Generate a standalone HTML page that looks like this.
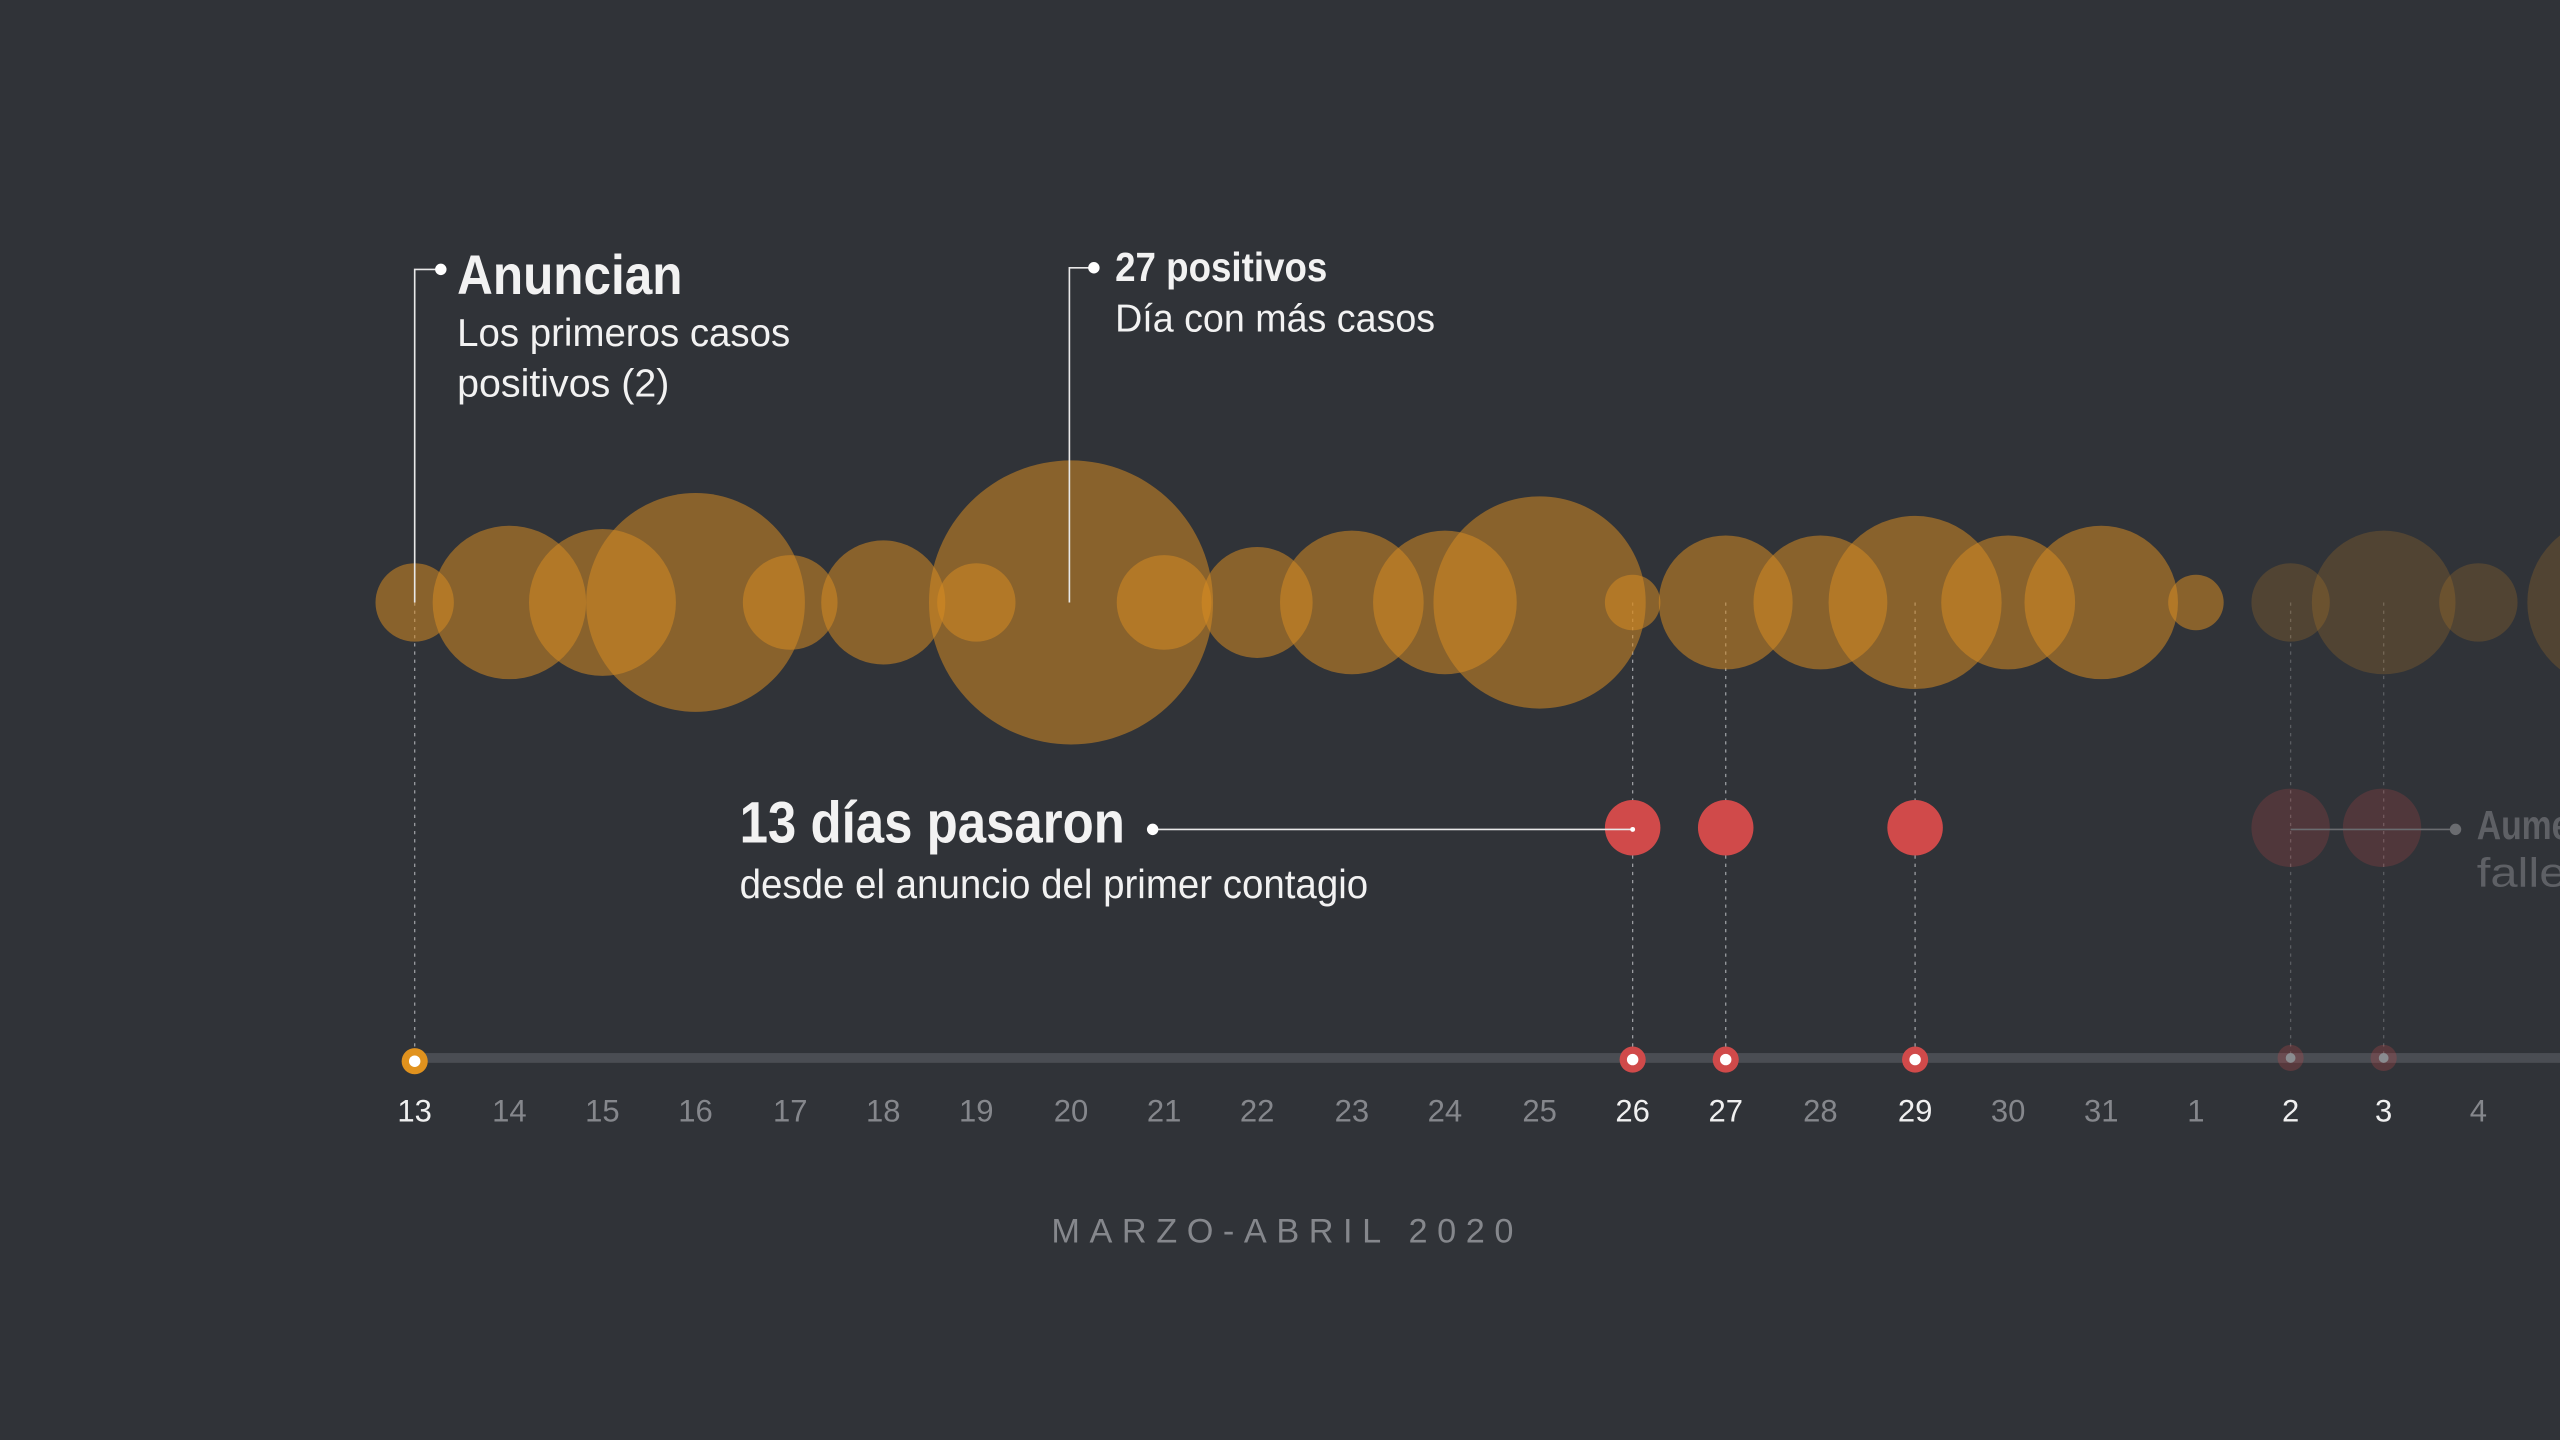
<!DOCTYPE html>
<html><head><meta charset="utf-8"><style>
html,body{margin:0;padding:0;background:#303338;}
svg{display:block;}
text{font-family:"Liberation Sans Narrow","Liberation Sans",sans-serif;}
</style></head><body>
<svg width="2560" height="1440" viewBox="0 0 1568 882" preserveAspectRatio="none" xmlns="http://www.w3.org/2000/svg">
<rect width="1568" height="882" fill="#303338"/>
<!-- dotted verticals -->
<g stroke="#9a9ca0" stroke-width="0.8" stroke-dasharray="2,3">
<line x1="254" y1="369" x2="254" y2="648"/>
<line x1="1000" y1="369" x2="1000" y2="648"/>
<line x1="1057" y1="369" x2="1057" y2="648"/>
<line x1="1173" y1="369" x2="1173" y2="648"/>
<line x1="1403" y1="369" x2="1403" y2="648" opacity="0.4"/>
<line x1="1460" y1="369" x2="1460" y2="648" opacity="0.4"/>
</g>
<!-- bubbles -->
<g fill="rgb(213,138,35)" fill-opacity="0.54">
<circle cx="254" cy="369" r="24"/>
<circle cx="312" cy="369" r="47"/>
<circle cx="369" cy="369" r="45"/>
<circle cx="426" cy="369" r="67"/>
<circle cx="484" cy="369" r="29"/>
<circle cx="541" cy="369" r="38"/>
<circle cx="598" cy="369" r="24"/>
<circle cx="656" cy="369" r="87"/>
<circle cx="713" cy="369" r="29"/>
<circle cx="770" cy="369" r="34"/>
<circle cx="828" cy="369" r="44"/>
<circle cx="885" cy="369" r="44"/>
<circle cx="943" cy="369" r="65"/>
<circle cx="1000" cy="369" r="17"/>
<circle cx="1057" cy="369" r="41"/>
<circle cx="1115" cy="369" r="41"/>
<circle cx="1173" cy="369" r="53"/>
<circle cx="1230" cy="369" r="41"/>
<circle cx="1287" cy="369" r="47"/>
<circle cx="1345" cy="369" r="17"/>
</g>
<g fill="rgb(213,138,35)" fill-opacity="0.2">
<circle cx="1403" cy="369" r="24"/>
<circle cx="1460" cy="369" r="44"/>
<circle cx="1518" cy="369" r="24"/>
<circle cx="1600" cy="369" r="52"/>
</g>
<!-- red circles -->
<g fill="#d04a4a">
<circle cx="1000" cy="507" r="17"/>
<circle cx="1057" cy="507" r="17"/>
<circle cx="1173" cy="507" r="17"/>
</g>
<g fill="#d04a4a" fill-opacity="0.2">
<circle cx="1403" cy="507" r="24"/>
<circle cx="1459" cy="507" r="24"/>
</g>
<!-- axis -->
<rect x="254" y="645" width="1314" height="6" fill="#4a4d53"/>
<circle cx="254" cy="650" r="8" fill="#e0921e"/><circle cx="254" cy="650" r="3.5" fill="#fff"/>
<circle cx="1000" cy="649" r="8" fill="#d04a4a"/><circle cx="1000" cy="649" r="3.5" fill="#fff"/>
<circle cx="1057" cy="649" r="8" fill="#d04a4a"/><circle cx="1057" cy="649" r="3.5" fill="#fff"/>
<circle cx="1173" cy="649" r="8" fill="#d04a4a"/><circle cx="1173" cy="649" r="3.5" fill="#fff"/>
<circle cx="1403" cy="648" r="8" fill="#d04a4a" fill-opacity="0.25"/><circle cx="1403" cy="648" r="3" fill="#8a8c90"/>
<circle cx="1460" cy="648" r="8" fill="#d04a4a" fill-opacity="0.25"/><circle cx="1460" cy="648" r="3" fill="#8a8c90"/>
<!-- day labels -->
<g font-size="19" text-anchor="middle" fill="#85878c">
<text x="254" y="687" fill="#f0f0f0">13</text>
<text x="312" y="687">14</text>
<text x="369" y="687">15</text>
<text x="426" y="687">16</text>
<text x="484" y="687">17</text>
<text x="541" y="687">18</text>
<text x="598" y="687">19</text>
<text x="656" y="687">20</text>
<text x="713" y="687">21</text>
<text x="770" y="687">22</text>
<text x="828" y="687">23</text>
<text x="885" y="687">24</text>
<text x="943" y="687">25</text>
<text x="1000" y="687" fill="#f0f0f0">26</text>
<text x="1057" y="687" fill="#f0f0f0">27</text>
<text x="1115" y="687">28</text>
<text x="1173" y="687" fill="#f0f0f0">29</text>
<text x="1230" y="687">30</text>
<text x="1287" y="687">31</text>
<text x="1345" y="687">1</text>
<text x="1403" y="687" fill="#f0f0f0">2</text>
<text x="1460" y="687" fill="#f0f0f0">3</text>
<text x="1518" y="687">4</text>
</g>
<text x="644" y="761" font-size="21" fill="#85878c" textLength="283" lengthAdjust="spacing">MARZO-ABRIL 2020</text>
<!-- annotations -->
<g stroke="#e8e8e8" stroke-width="1" fill="none">
<polyline points="254,369 254,165 268,165"/>
<polyline points="655,369 655,164 668,164"/>
<line x1="706" y1="508" x2="1000" y2="508"/>
</g>
<circle cx="270" cy="165" r="3.5" fill="#fff"/>
<circle cx="670" cy="164" r="3.5" fill="#fff"/>
<circle cx="706" cy="508" r="3.5" fill="#fff"/>
<circle cx="1000" cy="508" r="1.5" fill="#fff"/>
<line x1="1403" y1="508" x2="1503" y2="508" stroke="#6a6c70" stroke-width="1"/>
<circle cx="1504" cy="508" r="3.5" fill="#6a6c70"/>
<g fill="#f2f2f2">
<text x="280" y="180" font-size="34" font-weight="bold" textLength="138" lengthAdjust="spacingAndGlyphs">Anuncian</text>
<text x="280" y="212" font-size="24" textLength="204" lengthAdjust="spacingAndGlyphs">Los primeros casos</text>
<text x="280" y="243" font-size="24" textLength="130" lengthAdjust="spacingAndGlyphs">positivos (2)</text>
<text x="683" y="172" font-size="25" font-weight="bold" textLength="130" lengthAdjust="spacingAndGlyphs">27 positivos</text>
<text x="683" y="203" font-size="24" textLength="196" lengthAdjust="spacingAndGlyphs">Día con más casos</text>
<text x="453" y="516" font-size="36" font-weight="bold" textLength="236" lengthAdjust="spacingAndGlyphs">13 días pasaron</text>
<text x="453" y="550" font-size="25" textLength="385" lengthAdjust="spacingAndGlyphs">desde el anuncio del primer contagio</text>
</g>
<g fill="#5e6065">
<text x="1517" y="514" font-size="25" font-weight="bold" textLength="70" lengthAdjust="spacingAndGlyphs">Aumen</text>
<text x="1517" y="543" font-size="25" textLength="70" lengthAdjust="spacingAndGlyphs">fallec</text>
</g>
</svg>
</body></html>
